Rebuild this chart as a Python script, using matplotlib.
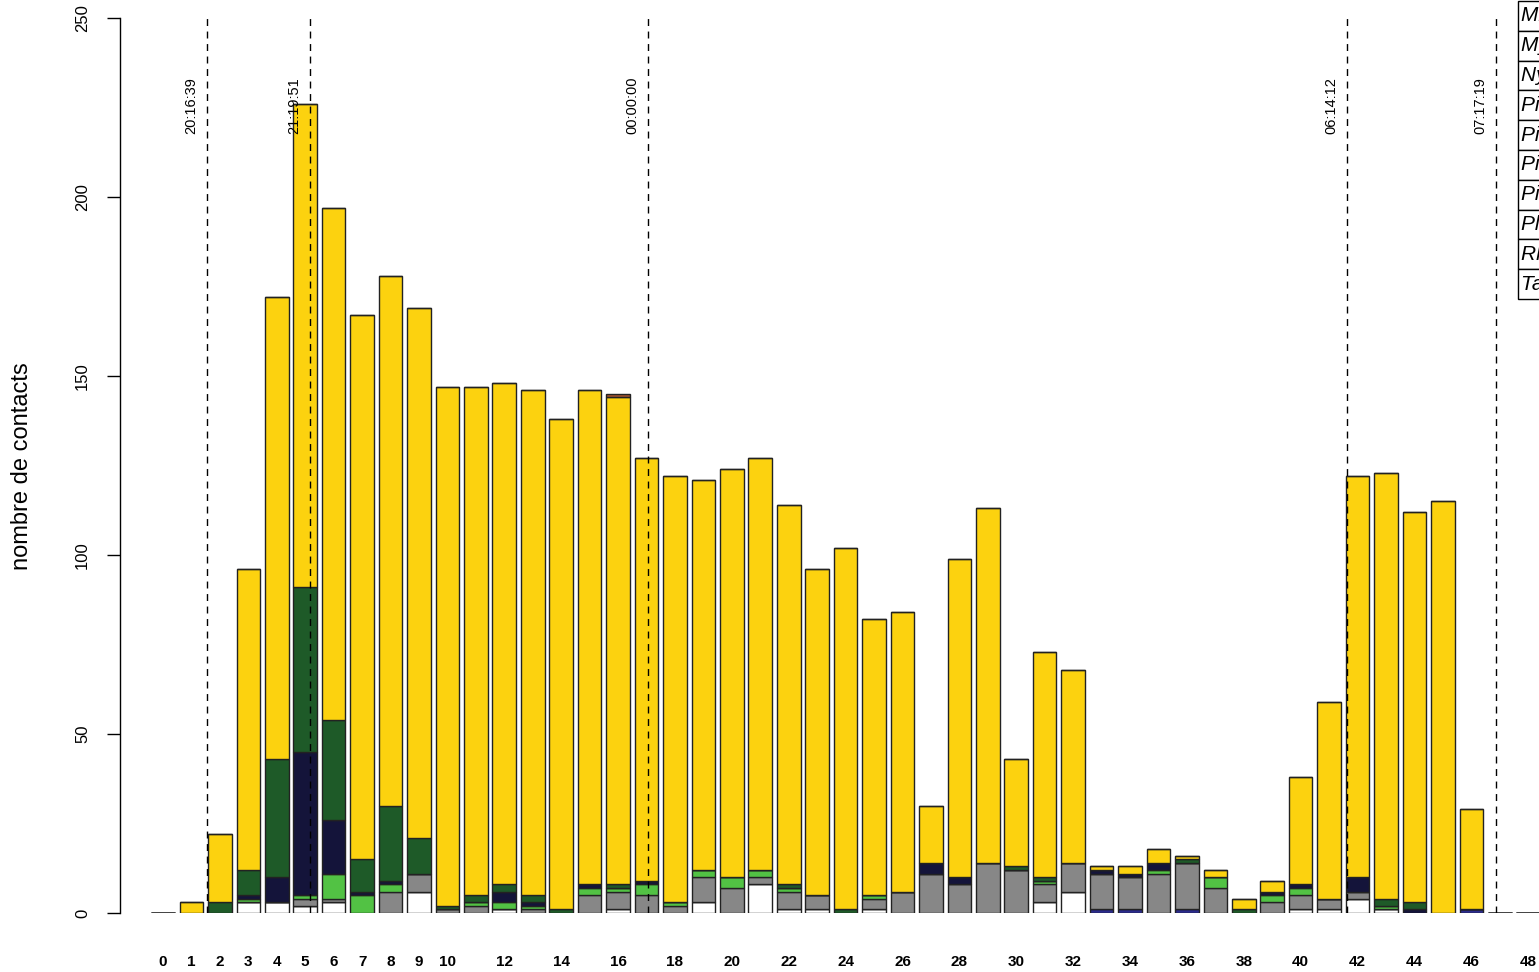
import numpy as np
import matplotlib
matplotlib.use('Agg')
import matplotlib.pyplot as plt
from matplotlib.patches import Rectangle

plt.rcParams['font.family'] = ['Liberation Sans', 'DejaVu Sans']

# ================================
# Données : nombre de contacts par pas de temps (49 pas)
# ================================
pas = list(range(49))

blanc = [0, 0, 0, 3, 3, 2, 3, 0, 0, 6,
         0, 0, 1, 0, 0, 0, 1, 0, 0, 3,
         0, 8, 1, 1, 0, 1, 0, 0, 0, 0,
         0, 3, 6, 0, 0, 0, 0, 0, 0, 0,
         1, 1, 4, 1, 0, 0, 0, 0, 0]
bleu = [0, 0, 0, 0, 0, 0, 0, 0, 0, 0,
        0, 0, 0, 0, 0, 0, 0, 0, 0, 0,
        0, 0, 0, 0, 0, 0, 0, 0, 0, 0,
        0, 0, 0, 1, 1, 0, 1, 0, 0, 0,
        0, 0, 0, 0, 0, 0, 1, 0, 0]
gris = [0, 0, 0, 0, 0, 2, 1, 0, 6, 5,
        1, 2, 0, 1, 0, 5, 5, 5, 2, 7,
        7, 2, 5, 4, 0, 3, 6, 11, 8, 14,
        12, 5, 8, 10, 9, 11, 13, 7, 0, 3,
        4, 3, 2, 0, 0, 0, 0, 0, 0]
vert_clair = [0, 0, 0, 1, 0, 1, 7, 5, 2, 0,
              0, 1, 2, 1, 0, 2, 1, 3, 1, 2,
              3, 2, 1, 0, 0, 1, 0, 0, 0, 0,
              0, 1, 0, 0, 0, 1, 0, 3, 0, 2,
              2, 0, 0, 1, 0, 0, 0, 0, 0]
marine = [0, 0, 0, 1, 7, 40, 15, 1, 1, 0,
          0, 0, 3, 1, 0, 1, 0, 1, 0, 0,
          0, 0, 0, 0, 0, 0, 0, 3, 2, 0,
          0, 0, 0, 1, 1, 2, 0, 0, 0, 1,
          1, 0, 4, 0, 1, 0, 0, 0, 0]
vert_fonce = [0, 0, 3, 7, 33, 46, 28, 9, 21, 10,
              1, 2, 2, 2, 1, 0, 1, 0, 0, 0,
              0, 0, 1, 0, 1, 0, 0, 0, 0, 0,
              1, 1, 0, 0, 0, 0, 1, 0, 1, 0,
              0, 0, 0, 2, 2, 0, 0, 0, 0]
jaune = [0, 3, 19, 84, 129, 135, 143, 152, 148, 148,
         145, 142, 140, 141, 137, 138, 136, 118, 119, 109,
         114, 115, 106, 91, 101, 77, 78, 16, 89, 99,
         30, 63, 54, 1, 2, 4, 1, 2, 3, 3,
         30, 55, 112, 119, 109, 115, 28, 0, 0]
brun = [0, 0, 0, 0, 0, 0, 0, 0, 0, 0,
        0, 0, 0, 0, 0, 0, 1, 0, 0, 0,
        0, 0, 0, 0, 0, 0, 0, 0, 0, 0,
        0, 0, 0, 0, 0, 0, 0, 0, 0, 0,
        0, 0, 0, 0, 0, 0, 0, 0, 0]

series = [blanc, bleu, gris, vert_clair, marine, vert_fonce, jaune, brun]
couleurs = ['#FFFFFF', '#2B2B8C', '#878787', '#52C244', '#14143A',
            '#1E5A28', '#FCD20F', '#A0522D']

# heures repères (position en pas de temps)
reperes = [1.55, 5.17, 17.05, 41.63, 46.87]
heures = ['20:16:39', '21:19:51', '00:00:00', '06:14:12', '07:17:19']

# étiquettes de l'axe x
ticks_x = list(range(0, 11)) + list(range(12, 49, 2))

# légende (coupée au bord de la figure, comme l'original)
especes = ['Miniopterus schreibersii', 'Myotis sp.', 'Nyctalus leisleri',
           'Pipistrellus kuhlii', 'Pipistrellus nathusii',
           'Pipistrellus pipistrellus', 'Pipistrellus pygmaeus',
           'Plecotus sp.', 'Rhinolophus sp.', 'Tadarida teniotis']

# ================================
# Figure
# ================================
W, H = 1539, 972
fig = plt.figure(figsize=(W / 100, H / 100), dpi=100)
ax = fig.add_axes([120 / W, 59 / H, 1 - 120 / W, 895 / H])

bas = np.zeros(len(pas))
for valeurs, couleur in zip(series, couleurs):
    ax.bar(pas, valeurs, width=0.83, bottom=bas, color=couleur,
           edgecolor='#222222', linewidth=1.0)
    bas += np.array(valeurs)

# lignes verticales pointillées + heures
for pos, txt in zip(reperes, heures):
    ax.axvline(pos, color='black', linewidth=1.0, linestyle=(0, (5, 4)))
    ax.text(pos - 0.55, 225.5, txt, rotation=90, ha='center', va='center',
            fontsize=10.5)

ax.set_xlim(-1.512, 48.38)
ax.set_ylim(0, 250)

for s in ['top', 'right', 'bottom']:
    ax.spines[s].set_visible(False)
ax.spines['left'].set_bounds(0, 250)
ax.spines['left'].set_linewidth(1.0)

ax.set_xticks(ticks_x)
ax.set_xticklabels([str(t) for t in ticks_x], fontweight='bold', fontsize=11)
ax.tick_params(axis='x', length=0, pad=30)

ax.set_yticks([0, 50, 100, 150, 200, 250])
ax.tick_params(axis='y', length=9.5, width=1.0, pad=12, labelsize=12,
               labelrotation=90)
for lbl in ax.get_yticklabels():
    lbl.set_va('center')

fig.text(22 / W, 1 - 466 / H, 'nombre de contacts', rotation=90,
         ha='center', va='center', fontsize=17)

# tableau de légende en haut à droite
h_ligne = 29.8
for i, nom in enumerate(especes):
    y_haut = 1 + h_ligne * i
    fig.add_artist(Rectangle((1518 / W, 1 - (y_haut + h_ligne) / H),
                             60 / W, h_ligne / H, transform=fig.transFigure,
                             facecolor='white', edgecolor='black',
                             linewidth=1.0))
    fig.text(1521 / W, 1 - (y_haut + h_ligne / 2) / H, nom,
             ha='left', va='center', fontsize=15, style='italic')

fig.savefig('out.png', dpi=100)
